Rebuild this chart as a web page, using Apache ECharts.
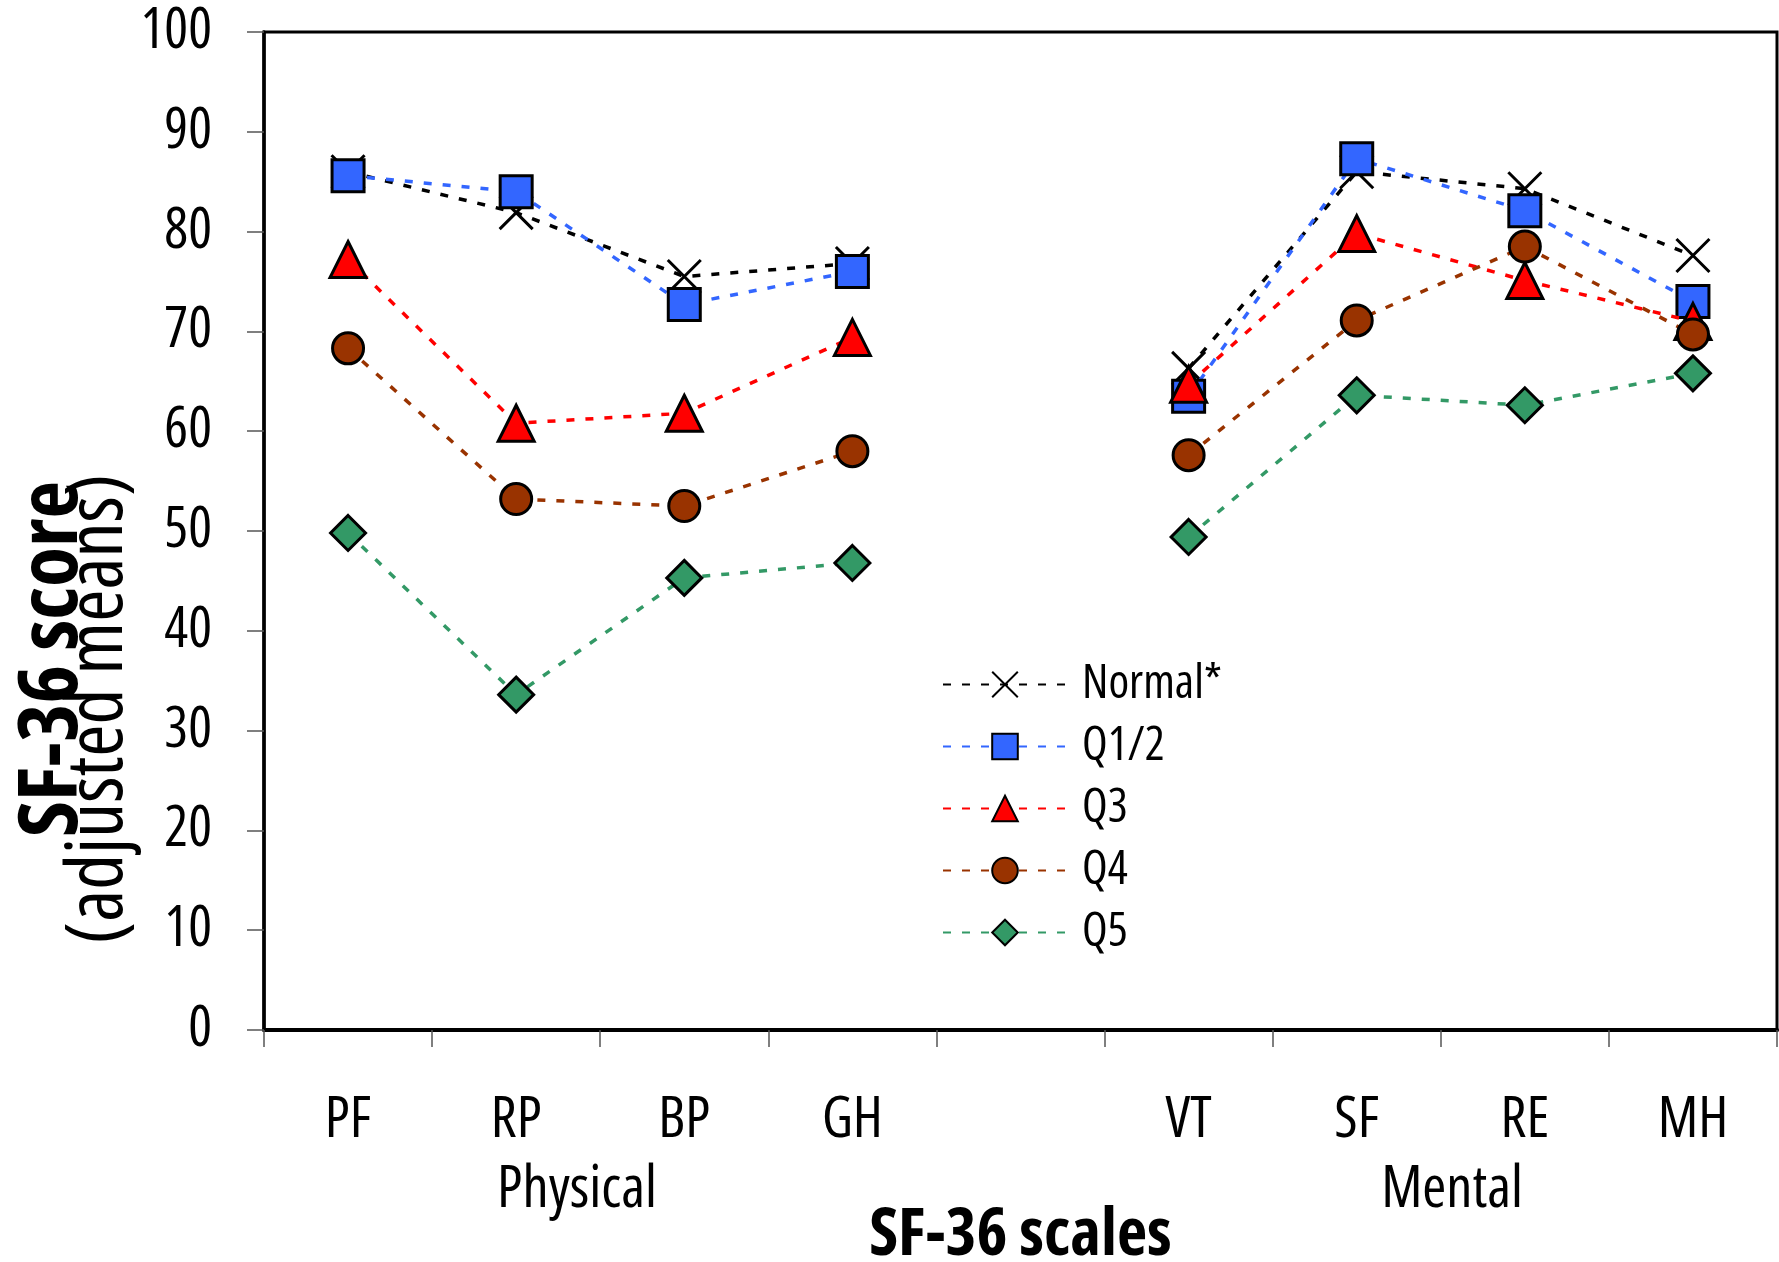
<!DOCTYPE html>
<html>
<head>
<meta charset="utf-8">
<script src="https://cdn.jsdelivr.net/npm/echarts@6/dist/echarts.min.js"></script>
<style>
html,body{margin:0;padding:0;background:#fff;}
#chart{width:1779px;height:1262px;}
</style>
</head>
<body>
<div id="chart"></div>
<script>
// ---- data ----
const categories = ['PF', 'RP', 'BP', 'GH', '', 'VT', 'SF', 'RE', 'MH'];
const groupLabels = ['Physical', 'Mental'];
const seriesNames = ['Normal*', 'Q1/2', 'Q3', 'Q4', 'Q5'];
const normalScores = [86.0, 81.9, 75.5, 76.8, null, 66.3, 86.0, 84.3, 77.6];
const q12Scores    = [85.6, 84.0, 72.7, 76.0, null, 63.5, 87.3, 82.1, 73.0];
const q3Scores     = [77.2, 60.8, 61.8, 69.4, null, 64.7, 79.8, 75.1, 71.0];
const q4Scores     = [68.3, 53.2, 52.5, 58.0, null, 57.6, 71.1, 78.5, 69.7];
const q5Scores     = [49.8, 33.6, 45.3, 46.8, null, 49.4, 63.6, 62.6, 65.8];
const yMin = 0, yMax = 100, yInterval = 10;
const xTitle = 'SF-36 scales';
const yTitle1 = 'SF-36 score';
const yTitle2 = '(adjusted means)';

// ---- styling ----
const FAMILY = "'Open Sans', 'DejaVu Sans Condensed', sans-serif";
const STRETCH = 'condensed';   // selects the installed Open Sans Condensed face
const colors = ['#000000', '#3366FF', '#FF0000', '#993300', '#339966'];
const symbols = ['path://M0,0L10,10M10,0L0,10', 'rect', 'triangle', 'circle', 'diamond'];
const sizes = [33, 32, 36, 31, 35];
const allData = [normalScores, q12Scores, q3Scores, q4Scores, q5Scores];

const series = seriesNames.map((name, i) => ({
  name: name,
  type: 'line',
  data: allData[i],
  symbol: symbols[i],
  symbolSize: sizes[i],
  connectNulls: false,
  showAllSymbol: true,
  lineStyle: { color: colors[i], width: 3.5, type: [8, 11] },
  itemStyle: {
    color: i === 0 ? 'rgba(0,0,0,0)' : colors[i],
    borderColor: '#000',
    borderWidth: 3
  },
  emphasis: { disabled: true },
  z: 2 + i
}));

function txt(size, weight) {
  return { fontStyle: STRETCH, fontWeight: weight || 'normal', fontSize: size, fontFamily: FAMILY, color: '#000' };
}
function font(size, weight) {
  return STRETCH + ' ' + (weight || 'normal') + ' ' + size + 'px ' + FAMILY;
}

const chart = echarts.init(document.getElementById('chart'), null, { renderer: 'canvas' });
chart.setOption({
  animation: false,
  backgroundColor: '#fff',
  grid: {
    left: 264, right: 2, top: 32, bottom: 232,
    show: true, borderColor: '#000', borderWidth: 3, backgroundColor: 'transparent',
    containLabel: false,
    outerBoundsMode: 'none'
  },
  legend: {
    orient: 'vertical',
    left: 937, top: 656,
    itemWidth: 124, itemHeight: 32, itemGap: 15,
    data: seriesNames,
    selectedMode: false,
    textStyle: Object.assign(txt(47), { padding: [0, 0, 0, 10] })
  },
  xAxis: {
    type: 'category',
    data: categories,
    boundaryGap: true,
    axisLine: { show: true, lineStyle: { color: '#000', width: 4 } },
    axisTick: { show: true, interval: 0, length: 17, lineStyle: { color: '#555', width: 1.5 } },
    axisLabel: Object.assign(txt(57), { interval: 0, margin: 62 }),
    splitLine: { show: false },
    name: xTitle,
    nameLocation: 'middle',
    nameGap: 173,
    nameTextStyle: txt(66, 'bold')
  },
  yAxis: {
    type: 'value',
    min: yMin, max: yMax, interval: yInterval,
    axisLine: { show: true, lineStyle: { color: '#000', width: 3.5 } },
    axisTick: { show: true, length: 17, lineStyle: { color: '#555', width: 1.5 } },
    axisLabel: Object.assign(txt(56), { margin: 52 }),
    splitLine: { show: false }
  },
  graphic: [
    { type: 'text', x: 577, y: 1190,
      style: { text: groupLabels[0], font: font(58), fill: '#000', align: 'center', verticalAlign: 'middle' } },
    { type: 'text', x: 1452, y: 1190,
      style: { text: groupLabels[1], font: font(58), fill: '#000', align: 'center', verticalAlign: 'middle' } },
    { type: 'text', x: 54, y: 659, rotation: Math.PI / 2,
      style: { text: yTitle1, font: font(82, 'bold'), fill: '#000', align: 'center', verticalAlign: 'middle' } },
    { type: 'text', x: 100, y: 709, rotation: Math.PI / 2,
      style: { text: yTitle2, font: font(78), fill: '#000', align: 'center', verticalAlign: 'middle' } }
  ],
  series: series
});
</script>
</body>
</html>
